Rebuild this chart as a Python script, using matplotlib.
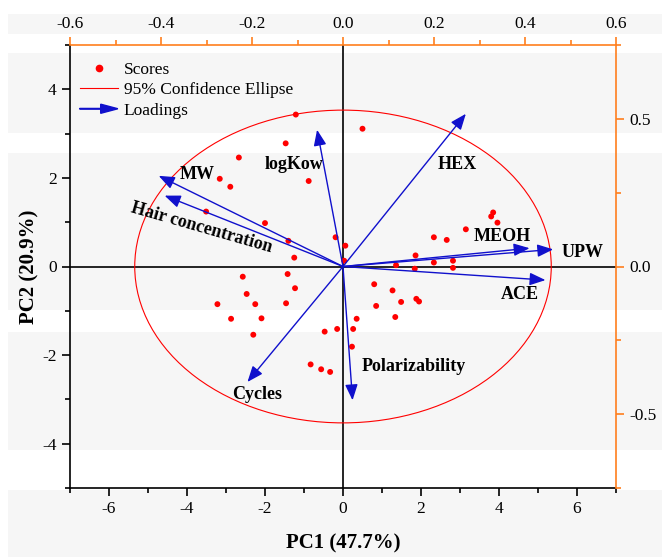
import numpy as np
import matplotlib
matplotlib.use("Agg")
import matplotlib.pyplot as plt
from matplotlib.patches import Ellipse, Rectangle, FancyArrow, FancyArrowPatch
from matplotlib.lines import Line2D
from matplotlib.legend_handler import HandlerPatch

plt.rcParams['font.family'] = ['Liberation Serif', 'DejaVu Serif']
plt.rcParams['axes.unicode_minus'] = False

# scores (PC1, PC2)
score_x = [-1.21, -1.47, -2.67, -3.16, -2.89, -0.88, -3.51, -2.00, -1.40, -1.25,
           -0.19, 0.06, 0.03,
           -2.57, -1.42, -2.47, -1.23, -3.22, -2.25, -1.46, -2.87, -2.09, -2.30,
           -0.47, -0.15, 0.26, 0.35, 0.23, -0.83, -0.56, -0.33,
           1.86, 1.36, 1.84, 2.33, 2.82, 2.82, 0.80, 1.27, 1.49, 1.88, 1.95,
           0.85, 1.34,
           0.50, 3.85, 3.80, 3.96, 3.15, 2.33, 2.66]
score_y = [3.43, 2.78, 2.46, 1.98, 1.80, 1.93, 1.24, 0.98, 0.58, 0.20,
           0.66, 0.47, 0.13,
           -0.23, -0.17, -0.62, -0.49, -0.85, -0.85, -0.83, -1.18, -1.17, -1.54,
           -1.47, -1.41, -1.41, -1.18, -1.81, -2.21, -2.32, -2.38,
           0.25, 0.03, -0.05, 0.09, 0.13, -0.03, -0.40, -0.54, -0.80, -0.73, -0.79,
           -0.89, -1.14,
           3.11, 1.22, 1.13, 0.99, 0.84, 0.66, 0.60]

# 95% confidence ellipse (semi axes)
ell_a = 5.34
ell_b = 3.53

# loadings
load_names = ['MW', 'Hair concentration', 'logKow', 'HEX', 'MEOH', 'UPW',
              'ACE', 'Polarizability', 'Cycles']
load_x = [-0.405, -0.392, -0.057, 0.270, 0.410, 0.462, 0.445, 0.021, -0.210]
load_y = [0.307, 0.240, 0.463, 0.517, 0.062, 0.058, -0.046, -0.453, -0.391]

# label placement (loading coordinates) and rotation
label_pos = [(-0.320, 0.310), (-0.311, 0.130), (-0.108, 0.347), (0.252, 0.347),
             (0.351, 0.101), (0.526, 0.048), (0.389, -0.094), (0.156, -0.337),
             (-0.188, -0.433)]
label_rot = [0, -16, 0, 0, 0, 0, 0, 0, 0]

W, H = 662, 557
fig = plt.figure(figsize=(W / 100, H / 100), dpi=100)
fig.patch.set_facecolor('white')

# faint horizontal background bands
bands = [(14, 34), (53, 133), (153, 310), (332, 450), (490, 557)]
for y0, y1 in bands:
    fig.patches.append(Rectangle((8 / W, 1 - y1 / H), 1 - 8 / W, (y1 - y0) / H,
                                 transform=fig.transFigure, facecolor='#f6f6f6',
                                 edgecolor='none', zorder=-10))

pos = [70 / W, 1 - 488 / H, 546 / W, 443 / H]
ax = fig.add_axes(pos)
ax.patch.set_alpha(0)
ax.set_xlim(-7, 7)
ax.set_ylim(-5, 5)

ax.axhline(0, color='black', lw=1.2, zorder=1)
ax.axvline(0, color='black', lw=1.2, zorder=1)

ell = Ellipse((0, 0), 2 * ell_a, 2 * ell_b, facecolor='none', edgecolor='red', lw=0.8, zorder=2)
ax.add_patch(ell)
ax.scatter(score_x, score_y, s=18, color='red', edgecolors='none', zorder=3)

ax.set_xticks([-6, -4, -2, 0, 2, 4, 6])
ax.set_xticks(np.arange(-7, 8, 2), minor=True)
ax.set_yticks([-4, -2, 0, 2, 4])
ax.set_yticks([-5, -3, -1, 1, 3, 5], minor=True)
ax.tick_params(which='both', direction='out', labelsize=12.5, width=1.2)
ax.tick_params(which='major', length=6)
ax.tick_params(which='minor', length=3.5)
for s in ['top', 'right']:
    ax.spines[s].set_visible(False)
for s in ['left', 'bottom']:
    ax.spines[s].set_linewidth(1.2)
ax.set_xlabel('PC1 (47.7%)', fontsize=15, fontweight='bold', labelpad=12)
ax.set_ylabel('PC2 (20.9%)', fontsize=15, fontweight='bold', labelpad=2)

# loadings axes (top / right)
ax2 = fig.add_axes(pos, frameon=True)
ax2.patch.set_alpha(0)
ax2.set_xlim(-0.6, 0.6)
ax2.set_ylim(-0.75, 0.75)
ax2.xaxis.tick_top()
ax2.yaxis.tick_right()
ax2.set_xticks([-0.6, -0.4, -0.2, 0.0, 0.2, 0.4, 0.6])
ax2.set_xticklabels(['-0.6', '-0.4', '-0.2', '0.0', '0.2', '0.4', '0.6'])
ax2.set_xticks(np.arange(-0.5, 0.6, 0.2), minor=True)
ax2.set_yticks([-0.5, 0.0, 0.5])
ax2.set_yticklabels(['-0.5', '0.0', '0.5'])
ax2.set_yticks([-0.75, -0.25, 0.25, 0.75], minor=True)
orange = '#ff7f1e'
ax2.tick_params(which='both', direction='out', labelsize=12.5, color=orange, width=1.2)
ax2.tick_params(which='major', length=6)
ax2.tick_params(which='minor', length=3.5)
for s in ['left', 'bottom']:
    ax2.spines[s].set_visible(False)
for s in ['top', 'right']:
    ax2.spines[s].set_color(orange)
    ax2.spines[s].set_linewidth(1.2)

for i in range(len(load_names)):
    arr = FancyArrowPatch((0, 0), (load_x[i], load_y[i]),
                          arrowstyle='-|>,head_length=0.8,head_width=0.32',
                          mutation_scale=12, color='#1010cc', lw=1.0,
                          shrinkA=0, shrinkB=0, zorder=4)
    ax2.add_patch(arr)
    ax2.text(label_pos[i][0], label_pos[i][1], load_names[i], fontsize=13,
             fontweight='bold', ha='center', va='center', rotation=label_rot[i],
             rotation_mode='anchor', zorder=5)


def make_legend_arrow(legend, orig_handle, xdescent, ydescent, width, height, fontsize):
    return FancyArrow(0, 0.5 * height, width, 0, length_includes_head=True,
                      head_width=0.75 * height, head_length=0.45 * width,
                      width=0.05 * height, color='#1010cc')


handles = [Line2D([], [], marker='o', ls='none', color='red', markersize=4.5),
           Line2D([], [], color='red', lw=0.8),
           FancyArrow(0, 0, 1, 0, color='#1010cc')]
labels = ['Scores', '95% Confidence Ellipse', 'Loadings']
ax2.legend(handles, labels, loc='upper left', bbox_to_anchor=(71 / W, 1 - 53 / H),
           bbox_transform=fig.transFigure, frameon=False, fontsize=12.5,
           handlelength=2.2, handletextpad=0.35, labelspacing=0.25, borderpad=0,
           handler_map={FancyArrow: HandlerPatch(patch_func=make_legend_arrow)})

fig.savefig('out.png', dpi=100)
